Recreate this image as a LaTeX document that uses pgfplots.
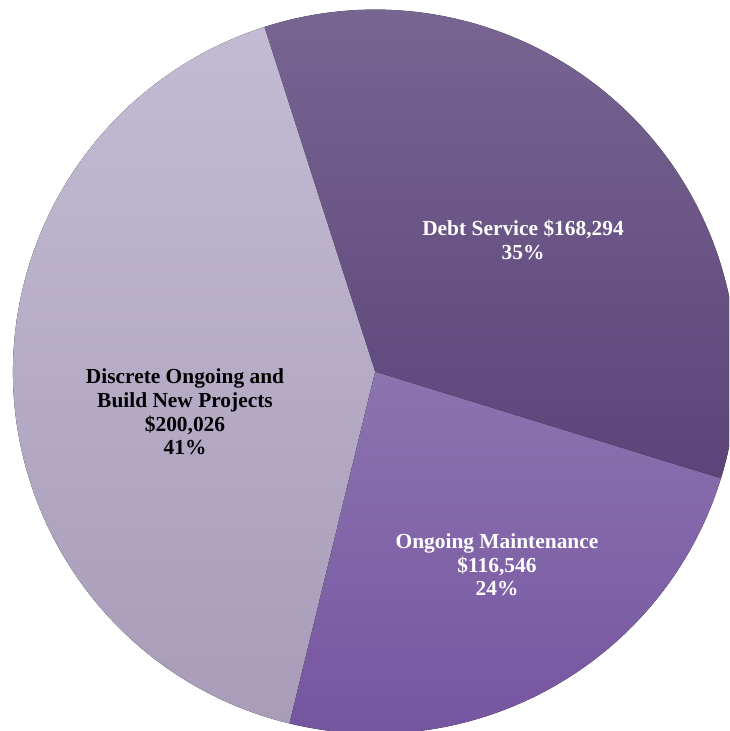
\documentclass[border=0pt]{standalone}
\usepackage{pgfplots}
\pgfplotsset{compat=1.18}
\usepackage{fontspec}
\setmainfont{Liberation Serif}
\definecolor{debtTop}{HTML}{7A6894}
\definecolor{debtBot}{HTML}{5C4479}
\definecolor{mntTop}{HTML}{8C74B0}
\definecolor{mntBot}{HTML}{74529F}
\definecolor{disTop}{HTML}{C3BBD4}
\definecolor{disBot}{HTML}{A89CB8}
\begin{document}
\begin{tikzpicture}
% values in thousands of dollars
\def\vA{168.294}% Debt Service
\def\vB{116.546}% Ongoing Maintenance
\def\vC{200.026}% Discrete Ongoing and Build New Projects
\pgfmathsetmacro{\tot}{\vA+\vB+\vC}
\pgfmathsetmacro{\aA}{107.8}
\pgfmathsetmacro{\fA}{\vA/\tot}
\pgfmathsetmacro{\fB}{\vB/\tot}
\pgfmathsetmacro{\aB}{\aA-360*\fA}
\pgfmathsetmacro{\aC}{\aB-360*\fB}
\pgfmathsetmacro{\aD}{\aA-360}
\begin{axis}[x=0.5pt,y=0.5pt,xmin=0,xmax=729,ymin=0,ymax=731,
  hide axis,clip=true,scale only axis]
\addplot[draw=none,forget plot] coordinates {(0,0) (729,731)};
\fill[top color=debtTop,bottom color=debtBot] (axis cs:375,359.3) -- ++(\aA:181pt) arc[start angle=\aA,end angle=\aB,radius=181pt] -- cycle;
\fill[top color=mntTop,bottom color=mntBot] (axis cs:375,359.3) -- ++(\aB:181pt) arc[start angle=\aB,end angle=\aC,radius=181pt] -- cycle;
\fill[top color=disTop,bottom color=disBot] (axis cs:375,359.3) -- ++(\aC:181pt) arc[start angle=\aC,end angle=\aD,radius=181pt] -- cycle;
\node[align=center,text=white,font=\fontsize{10.7}{11.8}\selectfont\bfseries] at (axis cs:523,491) {Debt Service \$168,294\\35\%};
\node[align=center,text=white,font=\fontsize{10.7}{11.8}\selectfont\bfseries] at (axis cs:497,166) {Ongoing Maintenance\\\$116,546\\24\%};
\node[align=center,text=black,font=\fontsize{10.7}{11.8}\selectfont\bfseries] at (axis cs:185,319) {Discrete Ongoing and\\Build New Projects\\\$200,026\\41\%};
\end{axis}
\pgfresetboundingbox
\path[use as bounding box] (current axis.south west) rectangle (current axis.north east);
\end{tikzpicture}
\end{document}
